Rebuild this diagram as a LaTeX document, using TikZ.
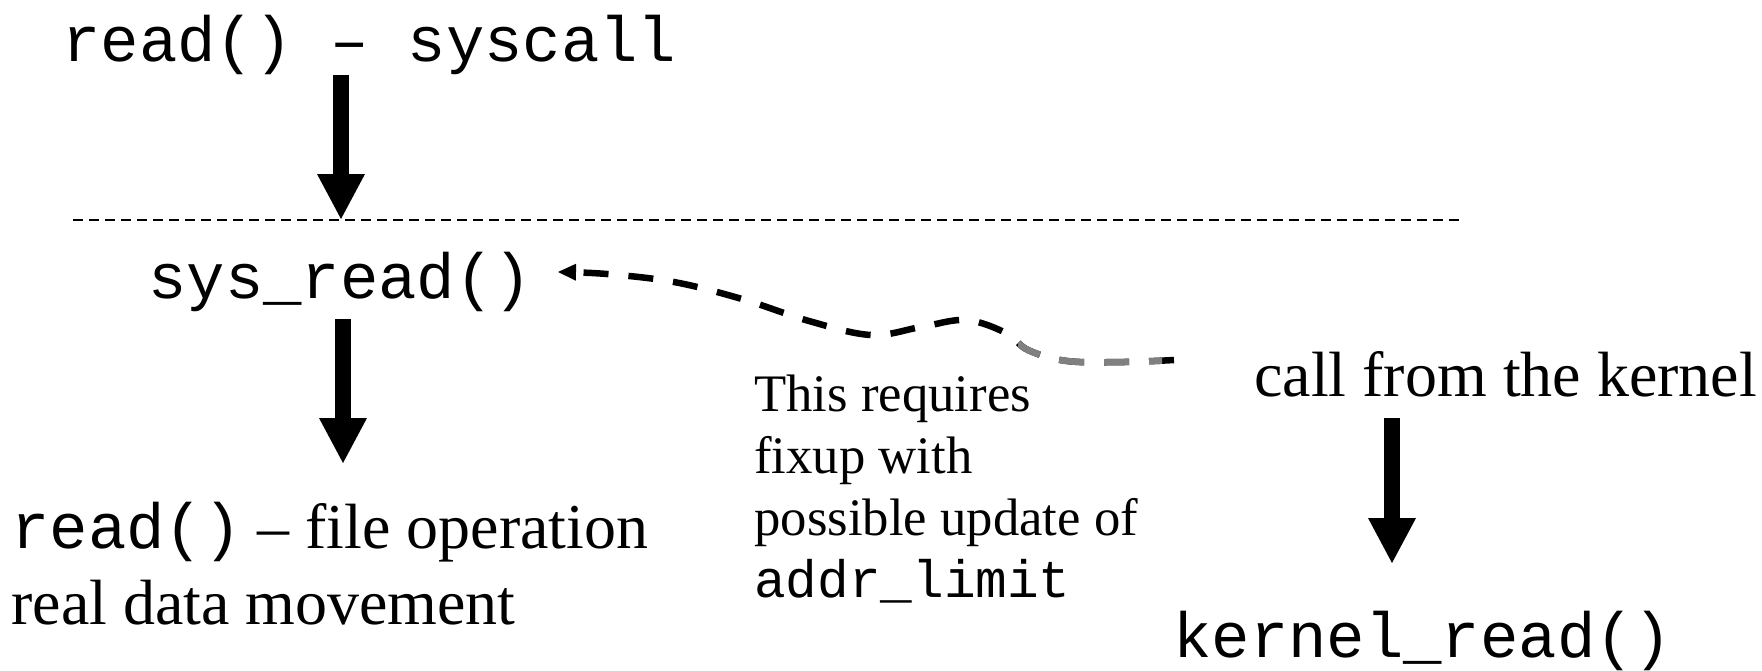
\documentclass[tikz,border=0pt]{standalone}
\usepackage{fontspec}
\setmainfont{Liberation Serif}
\setmonofont{Liberation Mono}
\usetikzlibrary{arrows.meta}

% path of the dashed fixup connector, right end first
\newcommand\fixcurve{plot[smooth,tension=0.6] coordinates {(fixstart) (1124,362) (1067,361) (1028,350) (1006,333) (966,320) (921,327) (871,335) (809,321) (742,299) (674,282) (607,274) (fixend)}}

\begin{document}
\begin{tikzpicture}[x=0.02cm,y=-0.02cm,
	big/.style={inner sep=0,anchor=base west,align=left,font=\fontsize{36.4}{43}\selectfont},
	small/.style={inner sep=0,anchor=base west,align=left,font=\fontsize{30}{35.2}\selectfont},
	callarrow/.style={line width=0.32cm,-{Triangle[width=0.96cm,length=0.9cm,line width=0pt]}},
	fixline/.style={line width=0.13cm,dash pattern=on 0.5cm off 0.4cm}]
	\useasboundingbox (0,0) rectangle (1762,670);

	% user space
	\node[big] (syscall) at (62,61) {\texttt{read() – syscall}};
	\coordinate (kl) at (73,220);
	\coordinate (kr) at (1459,220);
	\draw[line width=0.04cm,dash pattern=on 0.2cm off 0.12cm] (kl) -- (kr);

	% kernel space (base of a multi-line node = its last line)
	\node[big] (sysread) at (148,298) {\texttt{sys\_read()}};
	\node[big] (fileop) at (11,624) {\texttt{read()} – file operation\\real data movement};
	\node[small] (fixup) at (754,597) {This requires\\fixup with\\possible update of\\\texttt{addr\_limit}};
	\node[big] (kcall) at (1254,396) {call from the kernel};
	\node[big] (kread) at (1173,657) {\texttt{kernel\_read()}};

	\coordinate (a1) at (341,75);
	\coordinate (b1) at (341,219);
	\coordinate (a2) at (343,319);
	\coordinate (b2) at (343,463);
	\coordinate (a3) at (1392,418);
	\coordinate (b3) at (1392,563);
	\draw[callarrow] (a1) -- (b1);
	\draw[callarrow] (a2) -- (b2);
	\draw[callarrow] (a3) -- (b3);

	\coordinate (fixstart) at (1174,360);
	\coordinate (fixend) at (558,272);
	\draw[fixline,-{Triangle[width=0.34cm,length=0.36cm,line width=0pt]}] \fixcurve;
	\begin{scope}
		\clip (1018,290) rectangle (1162,400);
		\draw[fixline,gray] \fixcurve;
	\end{scope}
\end{tikzpicture}
\end{document}
